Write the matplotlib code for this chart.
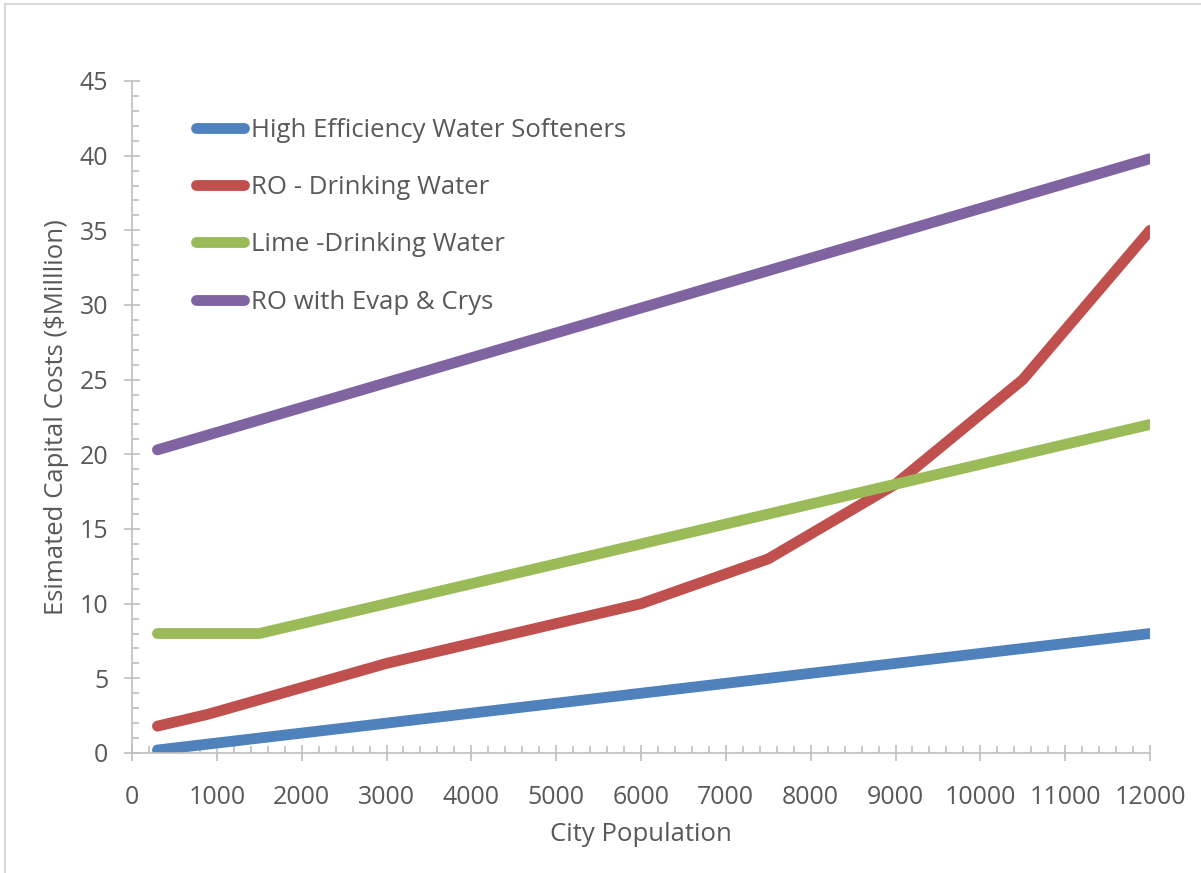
import matplotlib.pyplot as plt
from matplotlib.lines import Line2D
from matplotlib.ticker import MultipleLocator

# data
population = [300, 1500, 3000, 6000, 7500, 9000, 10500, 12000]
softeners = [0.2, 1.0, 2.0, 4.0, 5.0, 6.0, 7.0, 8.0]
ro_pop = [300, 900, 3000, 6000, 7500, 9000, 10500, 12000]
ro_drinking = [1.8, 2.6, 6.0, 10.0, 13.0, 18.0, 25.0, 35.0]
lime_drinking = [8.0, 8.0, 10.0, 14.0, 16.0, 18.0, 20.0, 22.0]
ro_evap = [20.3, 22.3, 24.8, 29.8, 32.3, 34.8, 37.3, 39.8]

labels = ['High Efficiency Water Softeners', 'RO - Drinking Water',
          'Lime -Drinking Water', 'RO with Evap & Crys']
colors = ['#4F81BD', '#C0504D', '#9BBB59', '#8064A2']

plt.rcParams['font.family'] = ['Open Sans', 'DejaVu Sans']
text_color = '#595959'
axis_color = '#BFBFBF'

fig = plt.figure(figsize=(12.01, 8.73), dpi=100)
ax = fig.add_axes([132 / 1201, 1 - 753 / 873, (1150 - 132) / 1201, (753 - 81) / 873])

lw = 7.8
series = [(population, softeners), (ro_pop, ro_drinking),
          (population, lime_drinking), (population, ro_evap)]
for (x, y), lab, c in zip(series, labels, colors):
    ax.plot(x, y, color=c, lw=lw, label=lab, solid_capstyle='round',
            solid_joinstyle='round')

ax.set_xlim(0, 12000)
ax.set_ylim(0, 45)
ax.xaxis.set_major_locator(MultipleLocator(1000))
ax.xaxis.set_minor_locator(MultipleLocator(200))
ax.yaxis.set_major_locator(MultipleLocator(5))
ax.yaxis.set_minor_locator(MultipleLocator(1))

for s in ['top', 'right']:
    ax.spines[s].set_visible(False)
for s in ['left', 'bottom']:
    ax.spines[s].set_color(axis_color)
    ax.spines[s].set_linewidth(1.2)

ax.tick_params(which='major', direction='inout', length=12, width=1.2,
               color=axis_color, labelsize=18, labelcolor=text_color)
ax.tick_params(which='minor', direction='in', length=5, width=1.2, color=axis_color)
ax.tick_params(axis='x', which='major', pad=17)
ax.tick_params(axis='y', which='major', pad=11)

ax.set_xlabel('City Population', fontsize=18.5, color=text_color, labelpad=9)
ax.set_ylabel('Esimated Capital Costs ($Milllion)', fontsize=18.5, color=text_color, labelpad=8)

leg = ax.legend(loc='upper left', bbox_to_anchor=(0.053, 0.96), frameon=False,
                fontsize=18.5, handlelength=1.85, handletextpad=0.3,
                labelspacing=1.25, borderaxespad=0)
for t in leg.get_texts():
    t.set_color(text_color)

# outer chart border (only left and top edges visible in the crop)
fig.add_artist(Line2D([5 / 1201, 5 / 1201], [0, 1 - 4 / 873], color='#D9D9D9', lw=1.5))
fig.add_artist(Line2D([5 / 1201, 1], [1 - 4 / 873, 1 - 4 / 873], color='#D9D9D9', lw=1.5))

fig.savefig('out.png', dpi=100)
